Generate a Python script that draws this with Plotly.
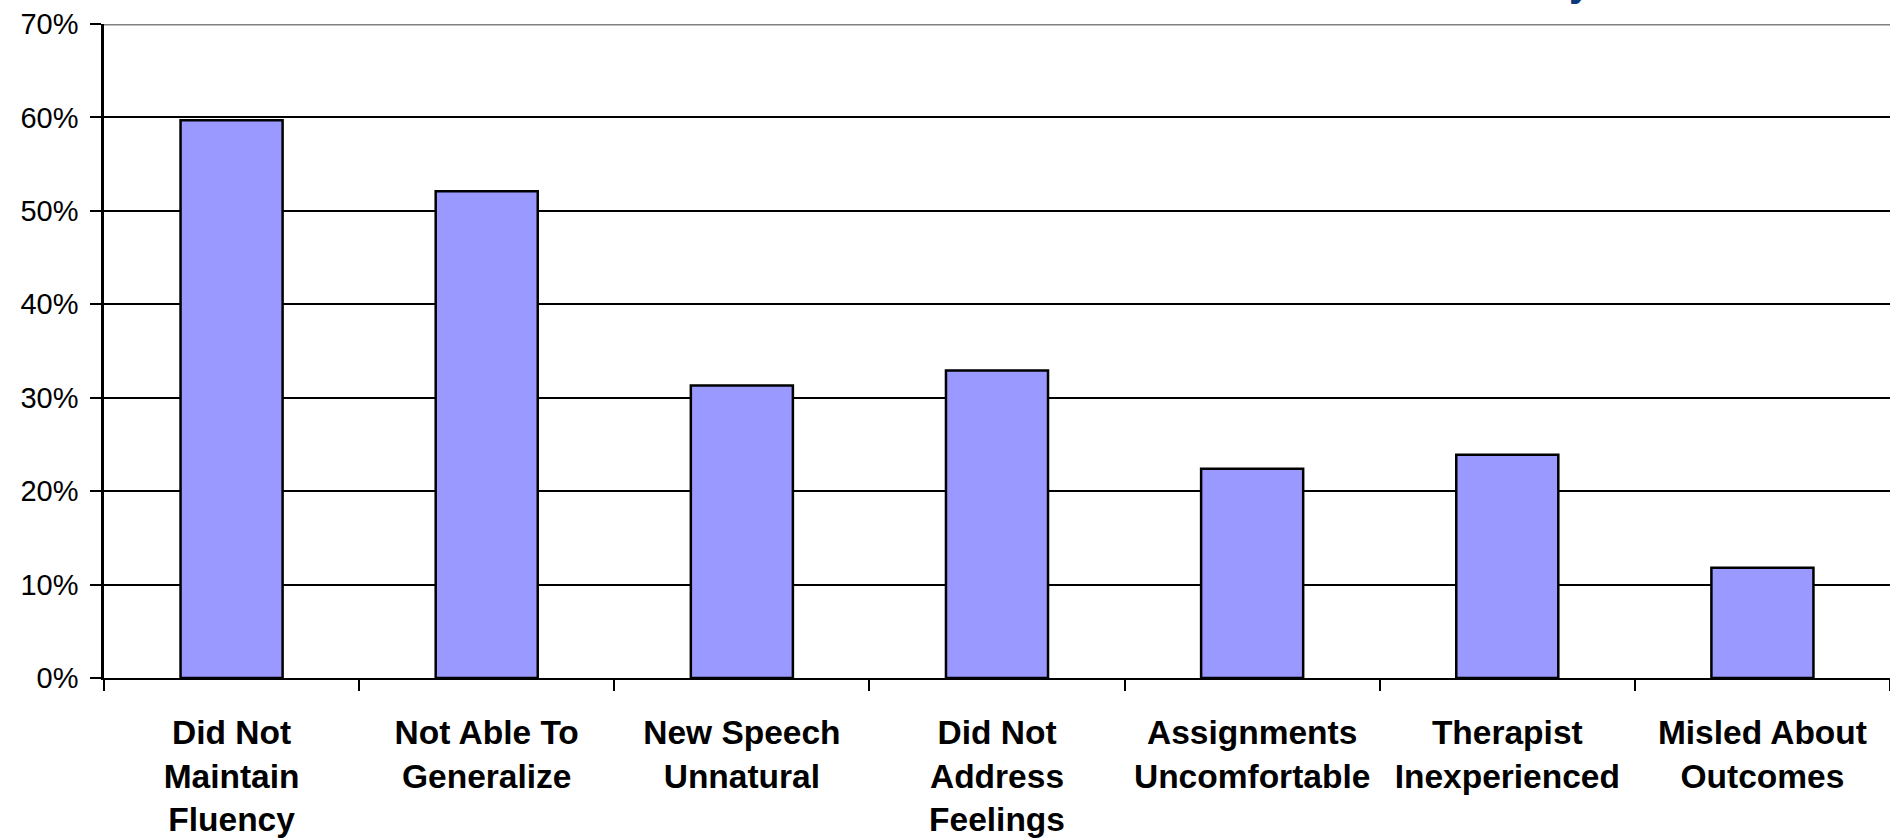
import plotly.graph_objects as go

# Reasons given for treatment dissatisfaction (percent of respondents)
categories = [
    "Did Not<br>Maintain<br>Fluency",
    "Not Able To<br>Generalize",
    "New Speech<br>Unnatural",
    "Did Not<br>Address<br>Feelings",
    "Assignments<br>Uncomfortable",
    "Therapist<br>Inexperienced",
    "Misled About<br>Outcomes",
]
percentages = [59.7, 52.1, 31.3, 32.9, 22.4, 23.9, 11.8]
y_ticks = [0, 10, 20, 30, 40, 50, 60, 70]
y_tick_labels = [f"{v}%" for v in y_ticks]

FONT = "Liberation Sans, Arial, sans-serif"
W, H = 1890, 839
M_L, M_R, M_T, M_B = 104, 0, 23.5, 161

fig = go.Figure(
    go.Bar(
        x=categories,
        y=percentages,
        marker=dict(color="#9999FF", line=dict(color="#000000", width=2.5)),
        hoverinfo="x+y",
    )
)

plot_h = H - M_T - M_B

fig.update_layout(
    width=W,
    height=H,
    margin=dict(l=M_L, r=M_R, t=M_T, b=M_B, pad=0),
    paper_bgcolor="white",
    plot_bgcolor="white",
    bargap=0.6,
    showlegend=False,
    font=dict(family=FONT, color="black"),
    xaxis=dict(
        type="category",
        tickfont=dict(family=FONT, size=33.5, color="black", weight="bold"),
        ticks="outside",
        tickson="boundaries",
        ticklen=11,
        tickwidth=2,
        tickcolor="black",
        showline=True,
        linecolor="black",
        linewidth=2,
        showgrid=False,
        ticklabelstandoff=24,
    ),
    yaxis=dict(
        range=[0, 70],
        tickvals=y_ticks,
        ticktext=y_tick_labels,
        tickfont=dict(family=FONT, size=29, color="black"),
        ticks="outside",
        ticklen=11,
        tickwidth=2,
        tickcolor="black",
        showline=True,
        linecolor="black",
        linewidth=2.5,
        showgrid=True,
        gridcolor="black",
        gridwidth=1.5,
        zeroline=False,
        ticklabelstandoff=6,
    ),
    shapes=[
        # top border of the chart area
        dict(
            type="line", xref="paper", yref="y",
            x0=0, x1=1, y0=70, y1=70,
            line=dict(color="#808080", width=3),
            layer="above",
        )
    ],
    annotations=[
        dict(
            text="<b>Reasons for Dissatisfaction: Treatment History</b>",
            xref="paper", yref="paper",
            x=(1594 - M_L) / (W - M_L - M_R),
            y=1 + (M_T - 5) / plot_h,
            xanchor="right", yanchor="bottom",
            showarrow=False,
            font=dict(family=FONT, size=40, color="#0B3A78"),
        )
    ],
)

fig.write_html("out.html")
